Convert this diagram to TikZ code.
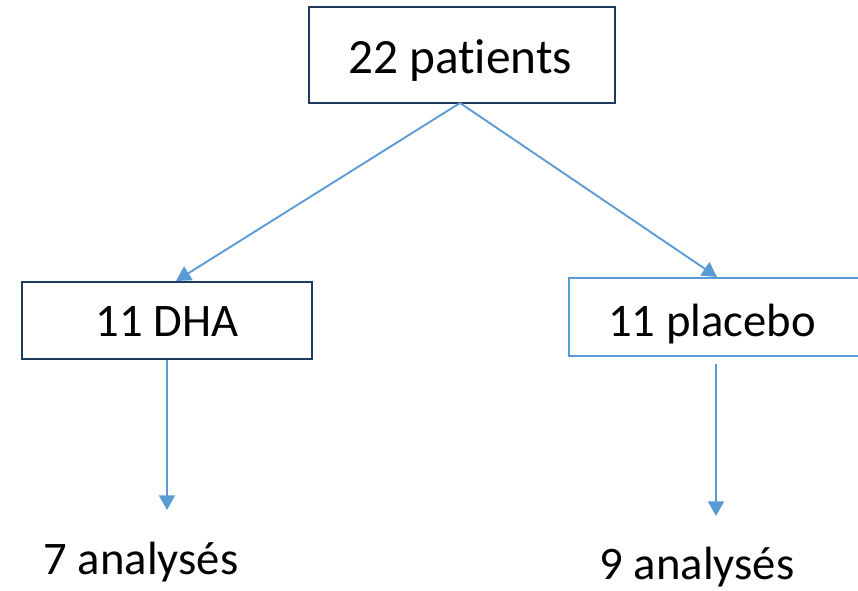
\documentclass[tikz,border=0pt]{standalone}
\usepackage{fontspec}
\setmainfont{Carlito}[Ligatures={NoCommon,NoContextual}]
\usetikzlibrary{arrows.meta}
\definecolor{navy}{HTML}{1F3A5A}
\definecolor{lblue}{HTML}{5B9BD5}
\tikzset{
  darkbox/.style={draw=navy, line width=2.2pt, fill=white},
  lightbox/.style={draw=lblue, line width=1.5pt, fill=white},
  conn/.style={draw=lblue, line width=1.4pt, -{Triangle[length=11pt,width=12pt]}},
  lbl/.style={inner sep=0pt, anchor=base},
}
\begin{document}
\begin{tikzpicture}[x=0.75pt,y=-0.75pt]
\useasboundingbox (0,0) rectangle (858,591);
\clip (0,0) rectangle (858,591);
\fill[white] (0,0) rectangle (858,591);
% boxes
\draw[darkbox] (309,7) rectangle (615,103);
\draw[darkbox] (22,282) rectangle (312,359);
\draw[lightbox] (569,278) rectangle (880,356);
\coordinate (topS) at (460,103);
\coordinate (dhaN) at (176,281);
\coordinate (plaN) at (717,277);
\coordinate (dhaS) at (167,360);
\coordinate (plaS) at (716,364);
\coordinate (dhaEnd) at (167,510);
\coordinate (plaEnd) at (716,516);
% texts
\node[lbl, font=\fontsize{37}{40}\selectfont] (tp) at (460,74) {22 patients};
\node[lbl, font=\fontsize{35}{38}\selectfont] (dha) at (167,337) {11 DHA};
\node[lbl, font=\fontsize{35}{38}\selectfont] (pla) at (712,337) {11 placebo};
\node[lbl, font=\fontsize{35}{38}\selectfont] (a7) at (141,575) {7 analysés};
\node[lbl, font=\fontsize{35}{38}\selectfont] (a9) at (697,580) {9 analysés};
% connectors
\draw[conn] (topS) -- (dhaN);
\draw[conn] (topS) -- (plaN);
\draw[conn] (dhaS) -- (dhaEnd);
\draw[conn] (plaS) -- (plaEnd);
\end{tikzpicture}
\end{document}
